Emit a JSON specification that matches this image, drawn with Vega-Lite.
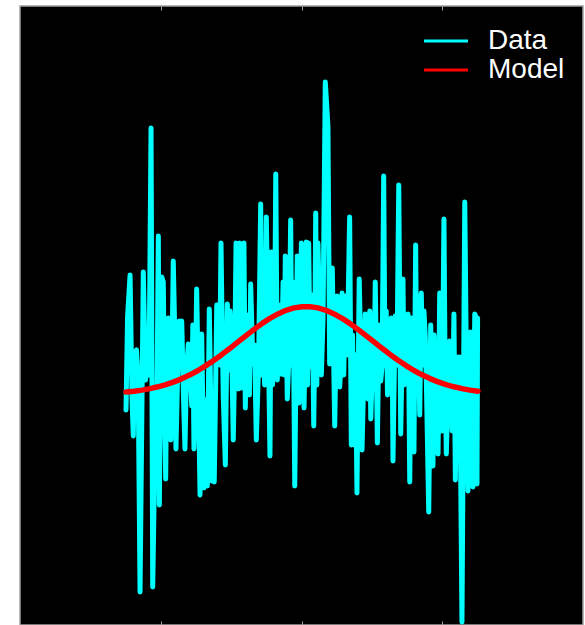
{
  "$schema": "https://vega.github.io/schema/vega-lite/v6.json",
  "width": 563,
  "height": 619,
  "autosize": {"type": "none"},
  "padding": {"left": 20, "top": 6, "right": 2, "bottom": 0},
  "background": "white",
  "config": {
    "view": {"fill": "black", "stroke": "#a0a0a0", "strokeWidth": 1.5},
    "font": "Liberation Sans"
  },
  "datasets": {
    "obs": [
      {"series":"Data","x":-1.247,"y":2.15},{"series":"Data","x":-1.236,"y":3.07},{"series":"Data","x":-1.218,"y":3.50},
      {"series":"Data","x":-1.204,"y":2.25},{"series":"Data","x":-1.195,"y":1.89},{"series":"Data","x":-1.187,"y":2.72},
      {"series":"Data","x":-1.172,"y":2.75},{"series":"Data","x":-1.160,"y":2.40},{"series":"Data","x":-1.147,"y":0.33},
      {"series":"Data","x":-1.124,"y":3.53},{"series":"Data","x":-1.108,"y":2.45},{"series":"Data","x":-1.096,"y":2.73},
      {"series":"Data","x":-1.083,"y":2.50},{"series":"Data","x":-1.069,"y":4.97},{"series":"Data","x":-1.057,"y":0.38},
      {"series":"Data","x":-1.044,"y":1.55},{"series":"Data","x":-1.036,"y":1.84},{"series":"Data","x":-1.027,"y":2.25},
      {"series":"Data","x":-1.017,"y":3.89},{"series":"Data","x":-1.010,"y":1.20},{"series":"Data","x":-0.998,"y":2.95},
      {"series":"Data","x":-0.993,"y":3.48},{"series":"Data","x":-0.982,"y":3.43},{"series":"Data","x":-0.973,"y":2.25},
      {"series":"Data","x":-0.965,"y":1.46},{"series":"Data","x":-0.956,"y":2.85},{"series":"Data","x":-0.946,"y":3.07},
      {"series":"Data","x":-0.929,"y":1.85},{"series":"Data","x":-0.921,"y":2.60},{"series":"Data","x":-0.911,"y":3.64},
      {"series":"Data","x":-0.901,"y":2.95},{"series":"Data","x":-0.892,"y":1.76},{"series":"Data","x":-0.881,"y":2.45},
      {"series":"Data","x":-0.868,"y":3.04},{"series":"Data","x":-0.858,"y":2.70},{"series":"Data","x":-0.851,"y":3.04},
      {"series":"Data","x":-0.838,"y":2.25},{"series":"Data","x":-0.828,"y":1.76},{"series":"Data","x":-0.817,"y":2.55},
      {"series":"Data","x":-0.804,"y":2.81},{"series":"Data","x":-0.792,"y":2.65},{"series":"Data","x":-0.780,"y":2.19},
      {"series":"Data","x":-0.772,"y":3.00},{"series":"Data","x":-0.764,"y":1.76},{"series":"Data","x":-0.754,"y":2.40},
      {"series":"Data","x":-0.745,"y":3.36},{"series":"Data","x":-0.732,"y":2.35},{"series":"Data","x":-0.721,"y":1.30},
      {"series":"Data","x":-0.709,"y":2.91},{"series":"Data","x":-0.700,"y":2.05},{"series":"Data","x":-0.693,"y":1.37},
      {"series":"Data","x":-0.682,"y":2.25},{"series":"Data","x":-0.669,"y":1.39},{"series":"Data","x":-0.655,"y":3.16},
      {"series":"Data","x":-0.643,"y":2.05},{"series":"Data","x":-0.638,"y":1.44},{"series":"Data","x":-0.629,"y":2.25},
      {"series":"Data","x":-0.620,"y":1.43},{"series":"Data","x":-0.611,"y":2.30},{"series":"Data","x":-0.602,"y":3.20},
      {"series":"Data","x":-0.590,"y":3.20},{"series":"Data","x":-0.581,"y":2.60},{"series":"Data","x":-0.572,"y":3.82},
      {"series":"Data","x":-0.564,"y":3.00},{"series":"Data","x":-0.556,"y":2.29},{"series":"Data","x":-0.541,"y":1.60},
      {"series":"Data","x":-0.527,"y":3.21},{"series":"Data","x":-0.517,"y":2.55},{"series":"Data","x":-0.508,"y":3.14},
      {"series":"Data","x":-0.497,"y":2.85},{"series":"Data","x":-0.485,"y":1.85},{"series":"Data","x":-0.475,"y":2.60},
      {"series":"Data","x":-0.465,"y":3.82},{"series":"Data","x":-0.449,"y":2.36},{"series":"Data","x":-0.439,"y":3.82},
      {"series":"Data","x":-0.428,"y":2.37},{"series":"Data","x":-0.418,"y":2.90},{"series":"Data","x":-0.409,"y":3.82},
      {"series":"Data","x":-0.399,"y":2.17},{"series":"Data","x":-0.390,"y":3.10},{"series":"Data","x":-0.380,"y":2.61},
      {"series":"Data","x":-0.370,"y":2.30},{"series":"Data","x":-0.361,"y":3.41},{"series":"Data","x":-0.353,"y":3.00},
      {"series":"Data","x":-0.345,"y":2.61},{"series":"Data","x":-0.333,"y":2.80},{"series":"Data","x":-0.321,"y":1.85},
      {"series":"Data","x":-0.305,"y":2.60},{"series":"Data","x":-0.290,"y":4.21},{"series":"Data","x":-0.282,"y":2.50},
      {"series":"Data","x":-0.274,"y":3.00},{"series":"Data","x":-0.262,"y":2.40},{"series":"Data","x":-0.250,"y":4.08},
      {"series":"Data","x":-0.238,"y":3.07},{"series":"Data","x":-0.224,"y":1.69},{"series":"Data","x":-0.215,"y":3.73},
      {"series":"Data","x":-0.206,"y":2.40},{"series":"Data","x":-0.198,"y":2.83},{"series":"Data","x":-0.190,"y":3.10},
      {"series":"Data","x":-0.183,"y":4.51},{"series":"Data","x":-0.172,"y":2.45},{"series":"Data","x":-0.163,"y":3.20},
      {"series":"Data","x":-0.155,"y":2.86},{"series":"Data","x":-0.148,"y":2.51},{"series":"Data","x":-0.140,"y":2.70},
      {"series":"Data","x":-0.131,"y":3.43},{"series":"Data","x":-0.123,"y":2.50},{"series":"Data","x":-0.115,"y":3.69},
      {"series":"Data","x":-0.108,"y":3.00},{"series":"Data","x":-0.101,"y":2.26},{"series":"Data","x":-0.089,"y":2.70},
      {"series":"Data","x":-0.077,"y":4.05},{"series":"Data","x":-0.069,"y":2.60},{"series":"Data","x":-0.060,"y":3.43},
      {"series":"Data","x":-0.048,"y":1.39},{"series":"Data","x":-0.039,"y":2.60},{"series":"Data","x":-0.030,"y":3.69},
      {"series":"Data","x":-0.018,"y":2.22},{"series":"Data","x":-0.009,"y":2.90},{"series":"Data","x":-0.001,"y":3.82},
      {"series":"Data","x":0.008,"y":3.00},{"series":"Data","x":0.018,"y":2.17},{"series":"Data","x":0.026,"y":2.80},
      {"series":"Data","x":0.034,"y":3.83},{"series":"Data","x":0.043,"y":2.40},{"series":"Data","x":0.051,"y":3.82},
      {"series":"Data","x":0.058,"y":3.00},{"series":"Data","x":0.065,"y":2.58},{"series":"Data","x":0.076,"y":3.30},
      {"series":"Data","x":0.087,"y":1.99},{"series":"Data","x":0.094,"y":2.80},{"series":"Data","x":0.101,"y":4.12},
      {"series":"Data","x":0.109,"y":2.40},{"series":"Data","x":0.117,"y":3.82},{"series":"Data","x":0.129,"y":3.04},
      {"series":"Data","x":0.141,"y":2.50},{"series":"Data","x":0.153,"y":3.06},{"series":"Data","x":0.169,"y":5.43},
      {"series":"Data","x":0.188,"y":4.98},{"series":"Data","x":0.200,"y":2.61},{"series":"Data","x":0.210,"y":3.00},
      {"series":"Data","x":0.219,"y":3.57},{"series":"Data","x":0.228,"y":2.70},{"series":"Data","x":0.236,"y":1.99},
      {"series":"Data","x":0.245,"y":2.80},{"series":"Data","x":0.254,"y":3.29},{"series":"Data","x":0.262,"y":3.00},
      {"series":"Data","x":0.271,"y":2.38},{"series":"Data","x":0.280,"y":2.60},{"series":"Data","x":0.288,"y":3.32},
      {"series":"Data","x":0.300,"y":2.50},{"series":"Data","x":0.311,"y":3.29},{"series":"Data","x":0.325,"y":2.70},
      {"series":"Data","x":0.342,"y":4.08},{"series":"Data","x":0.354,"y":1.80},{"series":"Data","x":0.363,"y":2.90},
      {"series":"Data","x":0.373,"y":1.80},{"series":"Data","x":0.384,"y":2.70},{"series":"Data","x":0.394,"y":1.32},
      {"series":"Data","x":0.410,"y":3.46},{"series":"Data","x":0.420,"y":2.80},{"series":"Data","x":0.430,"y":1.75},
      {"series":"Data","x":0.441,"y":2.40},{"series":"Data","x":0.453,"y":3.11},{"series":"Data","x":0.462,"y":2.80},
      {"series":"Data","x":0.472,"y":2.26},{"series":"Data","x":0.485,"y":3.14},{"series":"Data","x":0.492,"y":2.06},
      {"series":"Data","x":0.500,"y":2.40},{"series":"Data","x":0.508,"y":3.07},{"series":"Data","x":0.516,"y":2.50},
      {"series":"Data","x":0.524,"y":3.43},{"series":"Data","x":0.531,"y":2.70},{"series":"Data","x":0.539,"y":1.82},
      {"series":"Data","x":0.551,"y":3.00},{"series":"Data","x":0.563,"y":2.44},{"series":"Data","x":0.573,"y":2.60},
      {"series":"Data","x":0.584,"y":4.49},{"series":"Data","x":0.593,"y":2.60},{"series":"Data","x":0.602,"y":3.14},
      {"series":"Data","x":0.611,"y":2.30},{"series":"Data","x":0.620,"y":2.65},{"series":"Data","x":0.629,"y":2.40},
      {"series":"Data","x":0.638,"y":3.07},{"series":"Data","x":0.644,"y":2.80},{"series":"Data","x":0.650,"y":1.64},
      {"series":"Data","x":0.658,"y":2.40},{"series":"Data","x":0.666,"y":3.09},{"series":"Data","x":0.678,"y":2.60},
      {"series":"Data","x":0.691,"y":4.40},{"series":"Data","x":0.705,"y":1.91},{"series":"Data","x":0.713,"y":2.60},
      {"series":"Data","x":0.721,"y":3.46},{"series":"Data","x":0.729,"y":2.40},{"series":"Data","x":0.737,"y":3.07},
      {"series":"Data","x":0.747,"y":2.60},{"series":"Data","x":0.757,"y":3.11},{"series":"Data","x":0.763,"y":2.40},
      {"series":"Data","x":0.769,"y":1.43},{"series":"Data","x":0.780,"y":3.07},{"series":"Data","x":0.790,"y":2.40},
      {"series":"Data","x":0.799,"y":1.73},{"series":"Data","x":0.811,"y":3.80},{"series":"Data","x":0.819,"y":2.30},
      {"series":"Data","x":0.828,"y":3.29},{"series":"Data","x":0.840,"y":2.10},{"series":"Data","x":0.851,"y":3.32},
      {"series":"Data","x":0.861,"y":2.60},{"series":"Data","x":0.870,"y":3.14},{"series":"Data","x":0.879,"y":2.90},
      {"series":"Data","x":0.887,"y":2.44},{"series":"Data","x":0.904,"y":1.13},{"series":"Data","x":0.918,"y":3.00},
      {"series":"Data","x":0.926,"y":2.40},{"series":"Data","x":0.934,"y":1.59},{"series":"Data","x":0.942,"y":2.90},
      {"series":"Data","x":0.951,"y":2.37},{"series":"Data","x":0.960,"y":2.70},{"series":"Data","x":0.970,"y":1.71},
      {"series":"Data","x":0.982,"y":3.32},{"series":"Data","x":0.990,"y":2.50},{"series":"Data","x":0.998,"y":1.94},
      {"series":"Data","x":1.012,"y":4.06},{"series":"Data","x":1.020,"y":2.60},{"series":"Data","x":1.029,"y":1.71},
      {"series":"Data","x":1.041,"y":2.30},{"series":"Data","x":1.053,"y":2.84},{"series":"Data","x":1.062,"y":2.60},
      {"series":"Data","x":1.071,"y":1.94},{"series":"Data","x":1.083,"y":3.11},{"series":"Data","x":1.093,"y":1.45},
      {"series":"Data","x":1.100,"y":2.30},{"series":"Data","x":1.107,"y":2.68},{"series":"Data","x":1.115,"y":2.30},
      {"series":"Data","x":1.124,"y":2.68},{"series":"Data","x":1.140,"y":0.03},{"series":"Data","x":1.160,"y":4.23},
      {"series":"Data","x":1.171,"y":2.68},{"series":"Data","x":1.177,"y":2.10},{"series":"Data","x":1.183,"y":1.34},
      {"series":"Data","x":1.193,"y":2.50},{"series":"Data","x":1.202,"y":2.93},{"series":"Data","x":1.210,"y":2.40},
      {"series":"Data","x":1.218,"y":1.38},{"series":"Data","x":1.224,"y":2.20},{"series":"Data","x":1.231,"y":3.11},
      {"series":"Data","x":1.242,"y":3.07},{"series":"Data","x":1.247,"y":1.41},{"series":"Data","x":1.251,"y":3.07}
    ],
    "model": [
      {"series":"Model","x":-1.247,"y":2.329},{"series":"Model","x":-1.190,"y":2.338},{"series":"Model","x":-1.133,"y":2.349},
      {"series":"Model","x":-1.076,"y":2.364},{"series":"Model","x":-1.020,"y":2.382},{"series":"Model","x":-0.963,"y":2.404},
      {"series":"Model","x":-0.906,"y":2.431},{"series":"Model","x":-0.849,"y":2.464},{"series":"Model","x":-0.792,"y":2.502},
      {"series":"Model","x":-0.735,"y":2.545},{"series":"Model","x":-0.679,"y":2.594},{"series":"Model","x":-0.622,"y":2.648},
      {"series":"Model","x":-0.565,"y":2.706},{"series":"Model","x":-0.508,"y":2.767},{"series":"Model","x":-0.451,"y":2.831},
      {"series":"Model","x":-0.394,"y":2.894},{"series":"Model","x":-0.337,"y":2.956},{"series":"Model","x":-0.281,"y":3.014},
      {"series":"Model","x":-0.224,"y":3.067},{"series":"Model","x":-0.167,"y":3.111},{"series":"Model","x":-0.110,"y":3.147},
      {"series":"Model","x":-0.053,"y":3.171},{"series":"Model","x":0.004,"y":3.183},{"series":"Model","x":0.060,"y":3.183},
      {"series":"Model","x":0.117,"y":3.171},{"series":"Model","x":0.174,"y":3.147},{"series":"Model","x":0.231,"y":3.111},
      {"series":"Model","x":0.288,"y":3.067},{"series":"Model","x":0.345,"y":3.014},{"series":"Model","x":0.401,"y":2.956},
      {"series":"Model","x":0.458,"y":2.894},{"series":"Model","x":0.515,"y":2.831},{"series":"Model","x":0.572,"y":2.767},
      {"series":"Model","x":0.629,"y":2.706},{"series":"Model","x":0.686,"y":2.648},{"series":"Model","x":0.742,"y":2.594},
      {"series":"Model","x":0.799,"y":2.545},{"series":"Model","x":0.856,"y":2.502},{"series":"Model","x":0.913,"y":2.464},
      {"series":"Model","x":0.970,"y":2.431},{"series":"Model","x":1.027,"y":2.404},{"series":"Model","x":1.083,"y":2.382},
      {"series":"Model","x":1.140,"y":2.364},{"series":"Model","x":1.197,"y":2.349},{"series":"Model","x":1.254,"y":2.338}
    ]
  },
  "resolve": {"axis": {"x": "independent"}},
  "layer": [
    {
      "data": {"name": "obs"},
      "mark": {"type": "line", "strokeWidth": 5, "strokeCap": "round", "strokeJoin": "round"},
      "encoding": {
        "x": {"field": "x", "type": "quantitative", "scale": {"domain": [-2, 2], "nice": false, "zero": false},
              "axis": {"orient": "bottom", "values": [-1, 0, 1], "labels": false, "domain": false, "grid": false, "tickSize": -4, "tickColor": "#a0a0a0", "tickWidth": 1, "title": null}},
        "y": {"field": "y", "type": "quantitative", "scale": {"domain": [0, 6.19], "nice": false, "zero": false}, "axis": null},
        "color": {"field": "series", "type": "nominal",
                  "scale": {"domain": ["Data", "Model"], "range": ["#00FFFF", "#FF0000"]},
                  "legend": {"orient": "none", "legendX": 412, "legendY": 21, "title": null, "padding": 0,
                             "symbolType": "M-2,0H2", "symbolSize": 484, "symbolStrokeWidth": 3,
                             "labelFontSize": 28, "labelColor": "white", "labelFont": "Liberation Sans",
                             "labelOffset": 28, "rowPadding": 1}}
      }
    },
    {
      "data": {"name": "model"},
      "mark": {"type": "line", "strokeWidth": 5.5, "strokeCap": "round", "strokeJoin": "round"},
      "encoding": {
        "x": {"field": "x", "type": "quantitative",
              "axis": {"orient": "top", "values": [-1, 0, 1], "labels": false, "domain": false, "grid": false, "tickSize": -4, "tickColor": "#a0a0a0", "tickWidth": 1, "title": null}},
        "y": {"field": "y", "type": "quantitative"},
        "color": {"field": "series", "type": "nominal"}
      }
    }
  ]
}
